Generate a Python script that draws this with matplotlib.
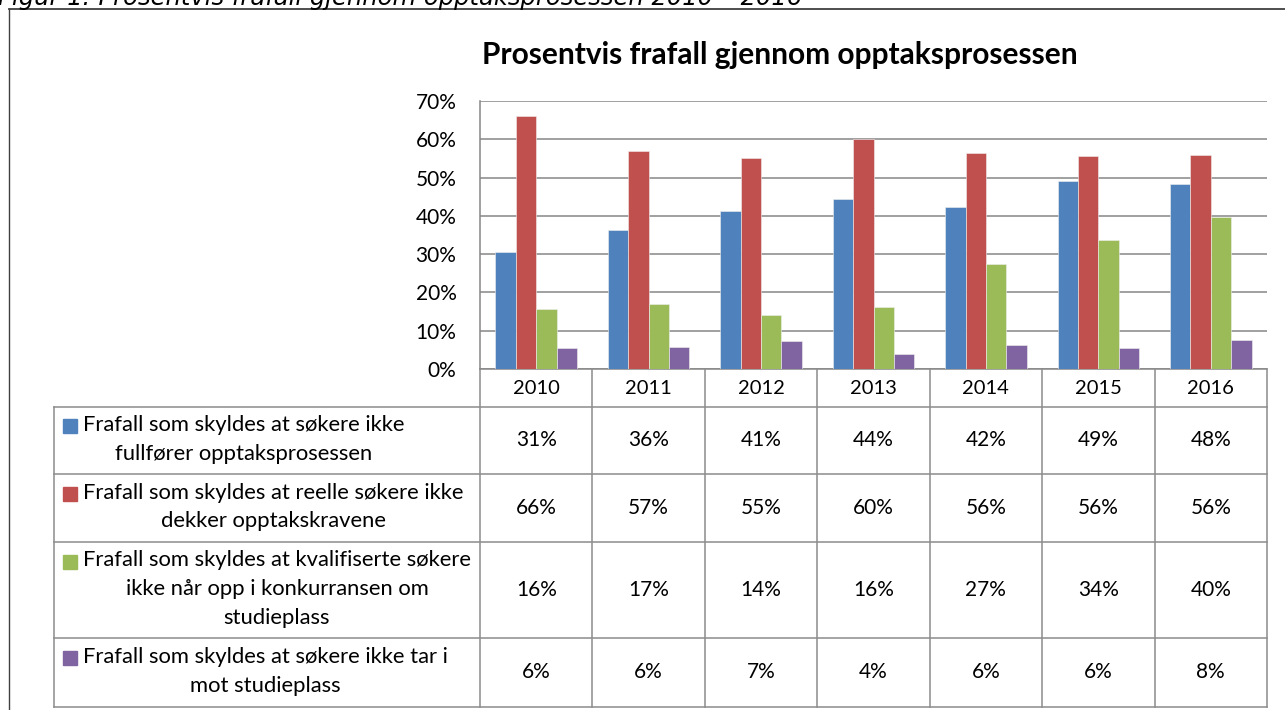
"""Prosentvis frafall gjennom opptaksprosessen 2010-2016 (stolpediagram med datatabell)."""

import matplotlib.pyplot as plt
import numpy as np

plt.rcParams["font.family"] = ["Lato", "DejaVu Sans"]

# data
years = ["2010", "2011", "2012", "2013", "2014", "2015", "2016"]
ikke_fullfort = [30.6, 36.2, 41.2, 44.3, 42.3, 49.0, 48.2]
ikke_krav = [66.1, 56.9, 55.1, 60.1, 56.4, 55.6, 55.8]
ikke_konkurranse = [15.6, 17.1, 14.0, 16.1, 27.3, 33.6, 39.6]
ikke_tar_imot = [5.6, 5.8, 7.3, 3.8, 6.2, 5.6, 7.6]

labels = [
    "Frafall som skyldes at søkere ikke\nfullfører opptaksprosessen",
    "Frafall som skyldes at reelle søkere ikke\ndekker opptakskravene",
    "Frafall som skyldes at kvalifiserte søkere\nikke når opp i konkurransen om\nstudieplass",
    "Frafall som skyldes at søkere ikke tar i\nmot studieplass",
]
series = [ikke_fullfort, ikke_krav, ikke_konkurranse, ikke_tar_imot]
colors = ["#4F81BD", "#C0504D", "#9BBB59", "#8064A2"]

W, H = 1285, 710
fig = plt.figure(figsize=(W / 100, H / 100), dpi=100)

# plottområde i piksler
x0, x1, y_top, y_base = 480, 1267, 101, 369
ax = fig.add_axes([x0 / W, 1 - y_base / H, (x1 - x0) / W, (y_base - y_top) / H])

grid_col = "#868686"
line_col = "#8c8c8c"
n = len(years)
x = np.arange(n) + 0.5
bw = 0.1815
for k, (vals, c) in enumerate(zip(series, colors)):
    ax.bar(x + (k - 1.5) * bw, vals, width=bw, color=c,
           edgecolor="#f0f0f0", linewidth=0.4, zorder=3)

ax.set_xlim(0, n)
ax.set_ylim(0, 70)
ax.set_yticks(np.arange(0, 71, 10))
ax.set_yticklabels([f"{v}%" for v in range(0, 71, 10)], fontsize=15)
ax.set_xticks([])
ax.tick_params(axis="y", length=0, pad=17)
ax.grid(axis="y", color=grid_col, linewidth=1.1, zorder=0)
for s in ["top", "right"]:
    ax.spines[s].set_visible(False)
ax.spines["left"].set_color(grid_col)
ax.spines["bottom"].set_color(grid_col)
ax.spines["left"].set_linewidth(1.1)
ax.spines["bottom"].set_linewidth(1.1)

# overlay for tabell, tittel og ramme
ov = fig.add_axes([0, 0, 1, 1])
ov.set_xlim(0, W)
ov.set_ylim(H, 0)
ov.axis("off")

# ytre ramme
ov.plot([9, 9], [9, H + 5], color="#404040", lw=1.0)
ov.plot([9, W + 5], [9, 9], color="#404040", lw=1.3)

# bildetekst (delvis kuttet i originalen)
ov.text(-2, 5.5, "Figur 1: Prosentvis frafall gjennom opptaksprosessen 2010 – 2016",
        family="DejaVu Sans", style="italic", fontsize=17.5, va="baseline", ha="left")

ov.text(780, 55, "Prosentvis frafall gjennom opptaksprosessen", fontsize=21.5,
        fontweight="bold", ha="center", va="center")

# datatabell
cw = (x1 - x0) / n
rows = [369, 406.7, 474.3, 542, 638, 706.5]
for y in rows[1:]:
    ov.plot([54, x1], [y, y], color=line_col, lw=1.1)
ov.plot([54, 54], [rows[1], rows[-1]], color=line_col, lw=1.1)
for k in range(n + 1):
    xx = x0 + k * cw
    ov.plot([xx, xx], [rows[0], rows[-1]], color=line_col, lw=1.1)

for k, yr in enumerate(years):
    ov.text(x0 + (k + 0.5) * cw, (rows[0] + rows[1]) / 2 + 1, yr, fontsize=14.5,
            ha="center", va="center")

line_h = 28.5
for r, (lab, vals, c) in enumerate(zip(labels, series, colors)):
    top, bot = rows[r + 1], rows[r + 2]
    yc = (top + bot) / 2 - 1
    nlines = lab.count("\n") + 1
    first = yc - (nlines - 1) * line_h / 2
    for j, part in enumerate(lab.split("\n")):
        if j == 0:
            t0 = ov.text(83, first, part, fontsize=15.8, ha="left", va="center")
        else:
            ov.text(0, first + j * line_h, part, fontsize=15.8, ha="center",
                    va="center", gid=f"l{r}")
    ov.add_patch(plt.Rectangle((63, first - 6), 14, 14, color=c))
    for k, v in enumerate(vals):
        ov.text(x0 + (k + 0.5) * cw, yc + 1, f"{v:.0f}%", fontsize=15,
                ha="center", va="center")

# midtstill etterfølgende linjer under første linje
fig.canvas.draw()
renderer = fig.canvas.get_renderer()
inv = ov.transData.inverted()
texts = ov.texts
for t in texts:
    gid = t.get_gid()
    if gid and gid.startswith("l"):
        r = int(gid[1:])
        # første linje i samme rad
        first_txt = [tt for tt in texts if tt.get_text() == labels[r].split("\n")[0]][0]
        bb = first_txt.get_window_extent(renderer)
        (xa, _), (xb, _) = inv.transform([[bb.x0, bb.y0], [bb.x1, bb.y1]])
        t.set_x((xa + xb) / 2)

fig.savefig("out.png", dpi=100, facecolor="white")
